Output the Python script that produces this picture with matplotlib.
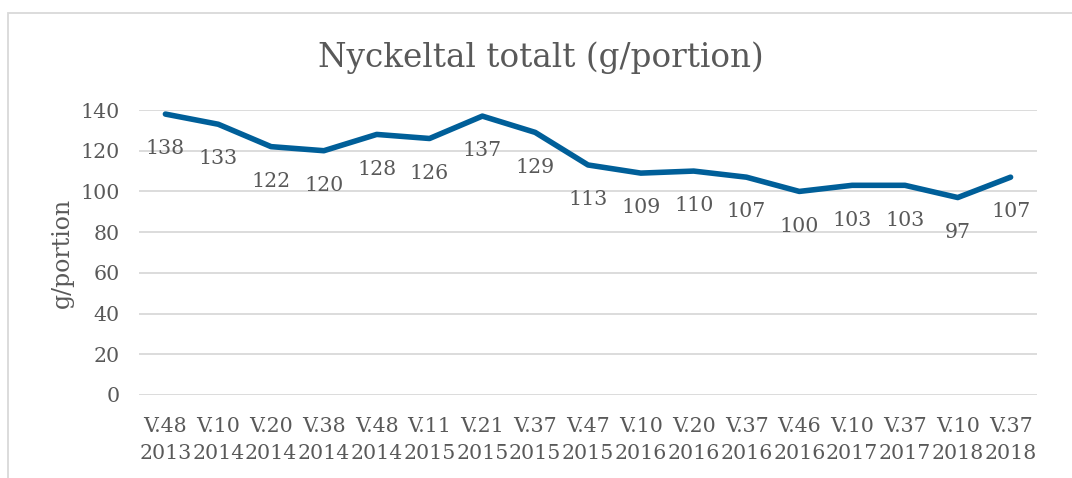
import matplotlib
matplotlib.use("Agg")
import matplotlib.pyplot as plt
from matplotlib.patches import Rectangle

categories = ["V.48\n2013", "V.10\n2014", "V.20\n2014", "V.38\n2014", "V.48\n2014",
              "V.11\n2015", "V.21\n2015", "V.37\n2015", "V.47\n2015", "V.10\n2016",
              "V.20\n2016", "V.37\n2016", "V.46\n2016", "V.10\n2017", "V.37\n2017",
              "V.10\n2018", "V.37\n2018"]
values = [138, 133, 122, 120, 128, 126, 137, 129, 113, 109, 110, 107, 100, 103, 103, 97, 107]
yticks = [0, 20, 40, 60, 80, 100, 120, 140]

FONT = "DejaVu Serif"
TXT = "#595959"
LINE = "#005f99"
GRID = "#d9d9d9"

W, H = 1072, 478
fig = plt.figure(figsize=(W / 100, H / 100), dpi=100)
fig.patch.set_facecolor("white")

# chart border (left and top visible)
fig.patches.append(Rectangle((8 / W, -0.1), 1.2, 1 - 13 / H + 0.1, transform=fig.transFigure,
                             fill=False, edgecolor=GRID, linewidth=1.3))

ax = fig.add_axes([139 / W, 1 - 395 / H, (1037 - 139) / W, (395 - 110) / H])
x = list(range(len(values)))
ax.plot(x, values, color=LINE, linewidth=4.0, solid_capstyle="round", solid_joinstyle="round", zorder=3)
for xi, v in zip(x, values):
    ax.annotate(f"{v}", (xi, v), xytext=(0, -25), textcoords="offset points",
                ha="center", va="center", fontsize=14.8, color=TXT, family=FONT)

ax.set_xlim(-0.5, len(values) - 0.5)
ax.set_ylim(0, 140)
ax.set_yticks(yticks)
ax.set_yticklabels([str(t) for t in yticks], fontsize=14.8, color=TXT, family=FONT)
ax.set_xticks(x)
ax.set_xticklabels(categories, fontsize=14.8, color=TXT, family=FONT, linespacing=1.55)
ax.tick_params(axis="x", length=0, pad=16)
ax.tick_params(axis="y", length=0, pad=14)
ax.grid(axis="y", color=GRID, linewidth=1.3)
ax.set_axisbelow(True)
for s in ax.spines.values():
    s.set_visible(False)

fig.text(62 / W, 1 - 253 / H, "g/portion", rotation=90, ha="center", va="center",
         fontsize=17, color=TXT, family=FONT)
fig.text(541 / W, 1 - 58 / H, "Nyckeltal totalt (g/portion)", ha="center", va="center",
         fontsize=23.5, color=TXT, family=FONT)

fig.savefig("out.png", dpi=100, facecolor="white")
